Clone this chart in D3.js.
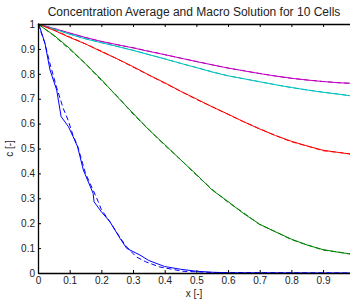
<!DOCTYPE html>
<html>
<head>
<meta charset="utf-8">
<script src="https://cdn.jsdelivr.net/npm/d3@7"></script>
<style>
  body { margin: 0; background: #fff; }
  text { font-family: "Liberation Sans", Arial, sans-serif; }
</style>
</head>
<body>
<script>
// x positions shared by the four upper curves
var xs = [0, 0.05, 0.1, 0.15, 0.2, 0.25, 0.3, 0.35, 0.4, 0.45, 0.5,
          0.55, 0.6, 0.65, 0.7, 0.75, 0.8, 0.85, 0.9, 0.95, 0.985];

// cell averages (solid) and macro solution (dashed)
var magentaAvg = [1, 0.982, 0.964, 0.946, 0.930, 0.917, 0.904, 0.890, 0.877, 0.863, 0.849,
                  0.836, 0.823, 0.812, 0.801, 0.791, 0.782, 0.775, 0.769, 0.764, 0.762];
var magentaMac = [1, 0.982, 0.963, 0.945, 0.930, 0.917, 0.905, 0.891, 0.877, 0.863, 0.850,
                  0.836, 0.823, 0.812, 0.801, 0.791, 0.782, 0.775, 0.769, 0.764, 0.762];
var cyanAvg = [1, 0.980, 0.959, 0.940, 0.925, 0.910, 0.894, 0.877, 0.860, 0.842, 0.825,
               0.807, 0.792, 0.780, 0.768, 0.756, 0.745, 0.735, 0.726, 0.718, 0.712];
var cyanMac = [1, 0.980, 0.960, 0.941, 0.925, 0.910, 0.895, 0.877, 0.860, 0.842, 0.825,
               0.808, 0.792, 0.780, 0.768, 0.756, 0.745, 0.735, 0.726, 0.718, 0.712];
var redAvg = [1, 0.975, 0.946, 0.920, 0.889, 0.860, 0.829, 0.795, 0.764, 0.730, 0.699,
              0.667, 0.638, 0.607, 0.578, 0.552, 0.529, 0.510, 0.493, 0.484, 0.478];
var redMac = [1, 0.976, 0.948, 0.920, 0.891, 0.860, 0.827, 0.795, 0.762, 0.730, 0.697,
              0.668, 0.637, 0.607, 0.579, 0.552, 0.527, 0.510, 0.491, 0.484, 0.478];
var greenAvg = [1, 0.955, 0.902, 0.840, 0.777, 0.708, 0.642, 0.575, 0.516, 0.455, 0.396,
                0.333, 0.287, 0.238, 0.196, 0.165, 0.136, 0.112, 0.094, 0.083, 0.077];
var greenMac = [1, 0.953, 0.898, 0.841, 0.773, 0.711, 0.638, 0.576, 0.513, 0.456, 0.393,
                0.336, 0.284, 0.241, 0.194, 0.166, 0.134, 0.113, 0.092, 0.084, 0.076];

// the fast-decaying curve has its own sampling
var blueAvgX = [0, 0.003, 0.022, 0.038, 0.059, 0.073, 0.096, 0.111, 0.125, 0.143, 0.174, 0.177,
                0.2, 0.227, 0.259, 0.28, 0.322, 0.35, 0.4, 0.45, 0.5, 0.55, 0.6, 0.985];
var blueAvg  = [1, 0.998, 0.922, 0.815, 0.735, 0.628, 0.588, 0.547, 0.507, 0.414, 0.320, 0.286,
                0.246, 0.206, 0.139, 0.099, 0.072, 0.050, 0.026, 0.015, 0.007, 0.003, 0.001, 0];
var blueMacX = [0, 0.02, 0.04, 0.06, 0.08, 0.095, 0.11, 0.125, 0.15, 0.175, 0.19, 0.2,
                0.23, 0.26, 0.28, 0.31, 0.34, 0.385, 0.457, 0.55, 0.985];
var blueMac  = [1, 0.930, 0.830, 0.740, 0.660, 0.614, 0.555, 0.510, 0.400, 0.330, 0.287, 0.255,
                0.200, 0.140, 0.105, 0.065, 0.045, 0.024, 0.007, 0.002, 0];

var xTicks = [0, 0.1, 0.2, 0.3, 0.4, 0.5, 0.6, 0.7, 0.8, 0.9];
var yTicks = [0, 0.1, 0.2, 0.3, 0.4, 0.5, 0.6, 0.7, 0.8, 0.9, 1];

var series = [
  {x: xs, y: magentaAvg, color: "#bf00bf", dash: null},
  {x: xs, y: magentaMac, color: "#bf00bf", dash: "5,3"},
  {x: xs, y: cyanAvg, color: "#00bfbf", dash: null},
  {x: xs, y: cyanMac, color: "#00bfbf", dash: "5,3"},
  {x: xs, y: redAvg, color: "#ff0000", dash: null},
  {x: xs, y: redMac, color: "#ff0000", dash: "5,3"},
  {x: xs, y: greenAvg, color: "#008000", dash: null},
  {x: xs, y: greenMac, color: "#008000", dash: "5,3"},
  {x: blueAvgX, y: blueAvg, color: "#0000ff", dash: null},
  {x: blueMacX, y: blueMac, color: "#0000ff", dash: "5,3"}
];

var margin = {top: 24, right: 0, bottom: 27, left: 38},
    width = 350 - margin.left - margin.right,
    height = 300 - margin.top - margin.bottom;

var x = d3.scaleLinear().domain([0, 0.985]).range([0, width]);
var y = d3.scaleLinear().domain([0, 1]).range([height, 0]);

var svg = d3.select("body").append("svg")
    .attr("width", 350)
    .attr("height", 300);

var g = svg.append("g")
    .attr("transform", "translate(" + margin.left + "," + margin.top + ")");

// curves
var line = d3.line()
    .x(function(d) { return x(d[0]); })
    .y(function(d) { return y(d[1]); });

series.forEach(function(s) {
  g.append("path")
    .datum(s.x.map(function(v, i) { return [v, s.y[i]]; }))
    .attr("fill", "none")
    .attr("stroke", s.color)
    .attr("stroke-width", 1)
    .attr("stroke-dasharray", s.dash)
    .attr("d", line);
});

// axes, ticks pointing inward like matlab
var xAxis = g.append("g")
    .attr("transform", "translate(0," + height + ")")
    .call(d3.axisBottom(x).tickValues(xTicks).tickSizeInner(-3).tickSizeOuter(0)
      .tickPadding(4).tickFormat(d3.format("")));
var xTop = g.append("g")
    .call(d3.axisTop(x).tickValues(xTicks).tickSizeInner(-3).tickSizeOuter(0)
      .tickFormat(""));
var yAxis = g.append("g")
    .call(d3.axisLeft(y).tickValues(yTicks).tickSizeInner(-3).tickSizeOuter(0)
      .tickPadding(3).tickFormat(d3.format("")));

[xAxis, xTop, yAxis].forEach(function(a) {
  a.select(".domain").attr("stroke", "#000").attr("stroke-width", 1.3);
  a.selectAll(".tick line").attr("stroke", "#000");
  a.selectAll("text").style("font-size", "10px").attr("fill", "#222");
});

// titles
svg.append("text")
  .attr("x", margin.left + width / 2)
  .attr("y", 16)
  .attr("text-anchor", "middle")
  .style("font-size", "12px")
  .attr("fill", "#222")
  .text("Concentration Average and Macro Solution for 10 Cells");

svg.append("text")
  .attr("x", margin.left + width / 2)
  .attr("y", 297)
  .attr("text-anchor", "middle")
  .style("font-size", "10px")
  .attr("fill", "#222")
  .text("x [-]");

svg.append("text")
  .attr("transform", "translate(13," + (margin.top + height / 2) + ") rotate(-90)")
  .attr("text-anchor", "middle")
  .style("font-size", "10px")
  .attr("fill", "#222")
  .text("c [-]");
</script>
</body>
</html>
